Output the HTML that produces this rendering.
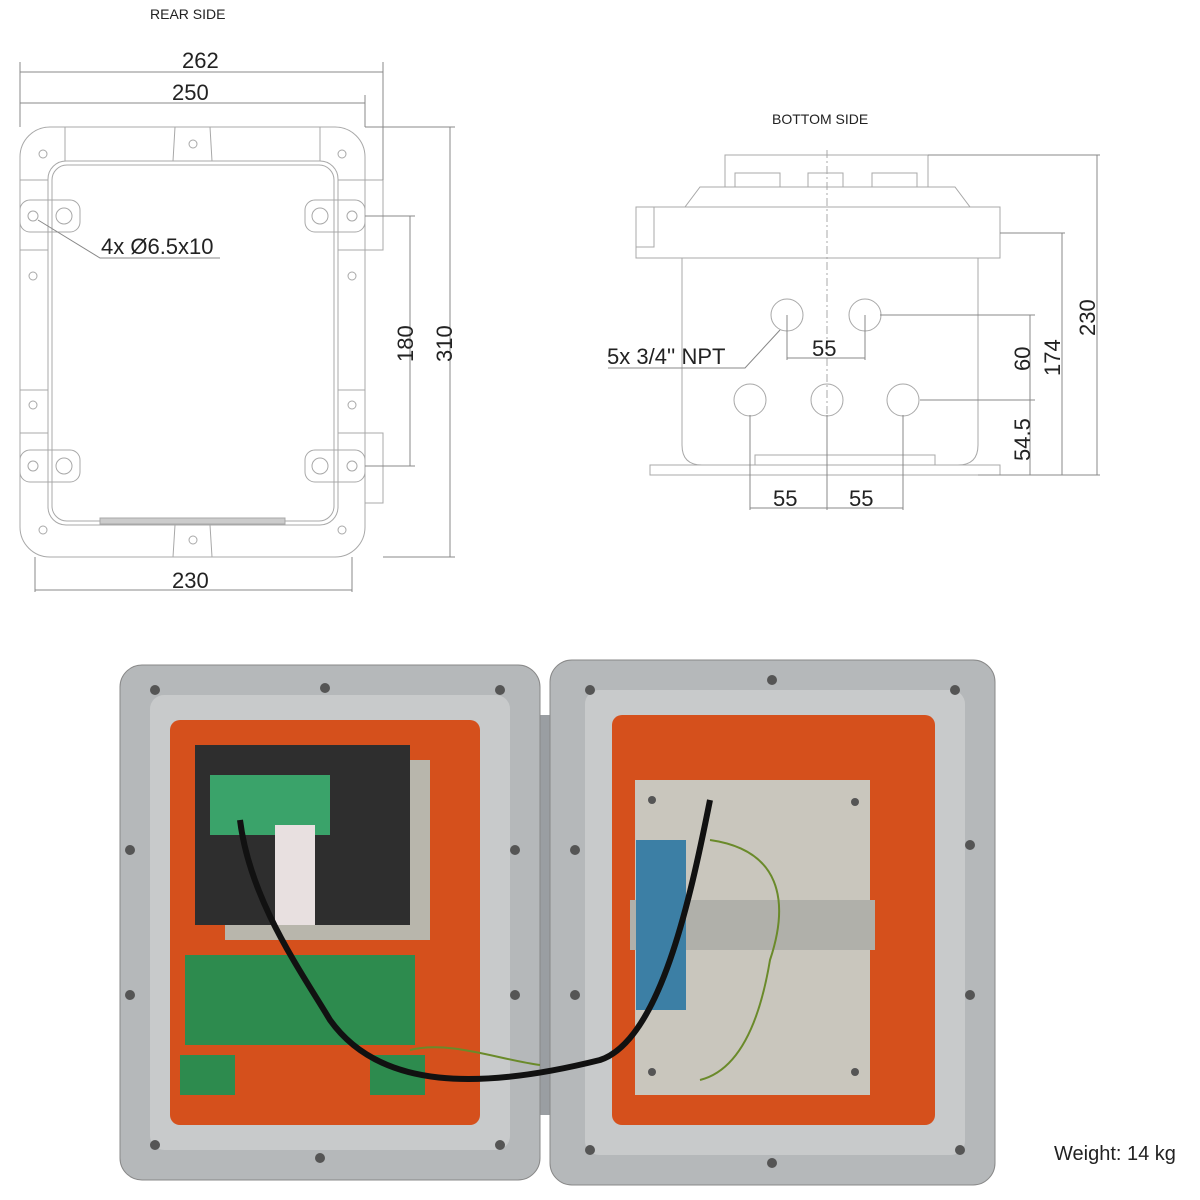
<!DOCTYPE html>
<html><head><style>
body{margin:0;background:#fff;width:1200px;height:1200px;overflow:hidden}
svg{display:block}
text{font-family:"Liberation Sans",sans-serif;fill:#222}
</style></head><body>
<svg width="1200" height="1200" viewBox="0 0 1200 1200">
<g fill="none" stroke="#a8a8a8" stroke-width="1">
<rect x="20" y="127" width="345" height="430" rx="30"/>
<rect x="48" y="161" width="290" height="364" rx="18"/>
<rect x="52" y="165" width="282" height="356" rx="15"/>
<rect x="365" y="180" width="18" height="70"/>
<rect x="365" y="433" width="18" height="70"/>
<path d="M65 127V161M320 127V161M175 127L173 161M210 127L212 161M20 180H48M338 180H365M20 250H48M338 250H365M20 390H48M338 390H365M20 433H48M338 433H365M175 525L173 557M210 525L212 557"/>
<rect x="20" y="200" width="60" height="32" rx="10"/><rect x="305" y="200" width="60" height="32" rx="10"/>
<rect x="20" y="450" width="60" height="32" rx="10"/><rect x="305" y="450" width="60" height="32" rx="10"/>
<circle cx="33" cy="216" r="5"/><circle cx="352" cy="216" r="5"/><circle cx="33" cy="466" r="5"/><circle cx="352" cy="466" r="5"/>
<circle cx="64" cy="216" r="8"/><circle cx="320" cy="216" r="8"/><circle cx="64" cy="466" r="8"/><circle cx="320" cy="466" r="8"/>
<circle cx="43" cy="154" r="4"/><circle cx="342" cy="154" r="4"/><circle cx="193" cy="144" r="4"/><circle cx="33" cy="276" r="4"/><circle cx="352" cy="276" r="4"/><circle cx="33" cy="405" r="4"/><circle cx="352" cy="405" r="4"/><circle cx="43" cy="530" r="4"/><circle cx="342" cy="530" r="4"/><circle cx="193" cy="540" r="4"/>
<rect x="100" y="518" width="185" height="6" fill="#ccc"/>
<rect x="725" y="155" width="203" height="32"/>
<rect x="735" y="173" width="45" height="14"/><rect x="808" y="173" width="35" height="14"/><rect x="872" y="173" width="45" height="14"/>
<path d="M700 187H955L970 207H685Z"/>
<rect x="636" y="207" width="364" height="51"/>
<rect x="636" y="207" width="18" height="40"/>
<path d="M682 258V445Q682 465 702 465H958Q978 465 978 445V258"/>
<rect x="650" y="465" width="350" height="10"/>
<rect x="755" y="455" width="180" height="10"/>
<circle cx="787" cy="315" r="16"/><circle cx="865" cy="315" r="16"/><circle cx="750" cy="400" r="16"/><circle cx="827" cy="400" r="16"/><circle cx="903" cy="400" r="16"/>
<path d="M827 150V500" stroke-dasharray="8 3 2 3"/>
</g>
<g fill="none" stroke="#888" stroke-width="1">
<path d="M20 62V127M383 62V180M365 95V127M20 72H383M20 103H365M35 557V592M352 557V592M35 590H352M365 127H455M450 127V557M383 557H455M365 216H415M365 466H415M410 216V466"/>
<path d="M38 220L100 258H220"/>
<path d="M928 155H1100M1000 233H1065M880 315H1035M920 400H1035M978 475H1100M1097 155V475M1062 233V475M1030 315V475M787 315V360M865 315V360M787 358H865M750 415V510M827 415V510M903 415V510M750 508H903M780 330L745 368H608"/>
</g>
<text x="150" y="19" font-size="14">REAR SIDE</text>
<text x="182" y="68" font-size="22">262</text>
<text x="172" y="100" font-size="22">250</text>
<text x="101" y="254" font-size="22">4x Ø6.5x10</text>
<text x="172" y="588" font-size="22">230</text>
<text transform="translate(413 362) rotate(-90)" font-size="22">180</text>
<text transform="translate(452 362) rotate(-90)" font-size="22">310</text>
<text x="772" y="124" font-size="14">BOTTOM SIDE</text>
<text x="607" y="364" font-size="22">5x 3/4'' NPT</text>
<text x="812" y="356" font-size="22">55</text>
<text x="773" y="506" font-size="22">55</text>
<text x="849" y="506" font-size="22">55</text>
<text transform="translate(1030 371) rotate(-90)" font-size="22">60</text>
<text transform="translate(1030 461) rotate(-90)" font-size="22">54.5</text>
<text transform="translate(1060 376) rotate(-90)" font-size="22">174</text>
<text transform="translate(1095 336) rotate(-90)" font-size="22">230</text>
<rect x="530" y="715" width="28" height="400" fill="#9a9ea2"/>
<rect x="120" y="665" width="420" height="515" rx="22" fill="#b5b8ba" stroke="#888"/>
<rect x="150" y="695" width="360" height="455" rx="14" fill="#c8cacb"/>
<rect x="170" y="720" width="310" height="405" rx="10" fill="#d5501c"/>
<rect x="550" y="660" width="445" height="525" rx="22" fill="#b5b8ba" stroke="#888"/>
<rect x="585" y="690" width="380" height="465" rx="14" fill="#c8cacb"/>
<rect x="612" y="715" width="323" height="410" rx="10" fill="#d5501c"/>
<rect x="635" y="780" width="235" height="315" fill="#c9c6bd"/>
<rect x="630" y="900" width="245" height="50" fill="#b0b0aa"/>
<rect x="636" y="840" width="50" height="170" fill="#3c7fa5"/>
<rect x="225" y="760" width="205" height="180" fill="#b8b6ac"/>
<rect x="195" y="745" width="215" height="180" fill="#2e2e2e"/>
<rect x="210" y="775" width="120" height="60" fill="#3aa36a"/>
<rect x="275" y="825" width="40" height="100" fill="#e8e0e0"/>
<rect x="185" y="955" width="230" height="90" fill="#2d8b4e"/>
<rect x="180" y="1055" width="55" height="40" fill="#2d8b4e"/>
<rect x="370" y="1055" width="55" height="40" fill="#2d8b4e"/>
<path d="M240 820C250 900 300 970 330 1020C380 1090 480 1090 600 1060C660 1040 690 900 710 800" fill="none" stroke="#111" stroke-width="6"/>
<path d="M710 840C780 850 790 900 770 960C760 1020 740 1070 700 1080" fill="none" stroke="#6a8a2a" stroke-width="2"/>
<path d="M410 1050C450 1040 500 1060 540 1065" fill="none" stroke="#6a8a2a" stroke-width="2"/>
<g fill="#555">
<circle cx="155" cy="690" r="5"/><circle cx="325" cy="688" r="5"/><circle cx="500" cy="690" r="5"/><circle cx="130" cy="850" r="5"/><circle cx="130" cy="995" r="5"/><circle cx="515" cy="850" r="5"/><circle cx="515" cy="995" r="5"/><circle cx="155" cy="1145" r="5"/><circle cx="320" cy="1158" r="5"/><circle cx="500" cy="1145" r="5"/>
<circle cx="590" cy="690" r="5"/><circle cx="772" cy="680" r="5"/><circle cx="955" cy="690" r="5"/><circle cx="575" cy="850" r="5"/><circle cx="575" cy="995" r="5"/><circle cx="970" cy="845" r="5"/><circle cx="970" cy="995" r="5"/><circle cx="590" cy="1150" r="5"/><circle cx="772" cy="1163" r="5"/><circle cx="960" cy="1150" r="5"/>
<circle cx="652" cy="800" r="4"/><circle cx="855" cy="802" r="4"/><circle cx="652" cy="1072" r="4"/><circle cx="855" cy="1072" r="4"/>
</g>
<text x="1054" y="1160" font-size="20">Weight: 14 kg</text>
</svg>
</body></html>
